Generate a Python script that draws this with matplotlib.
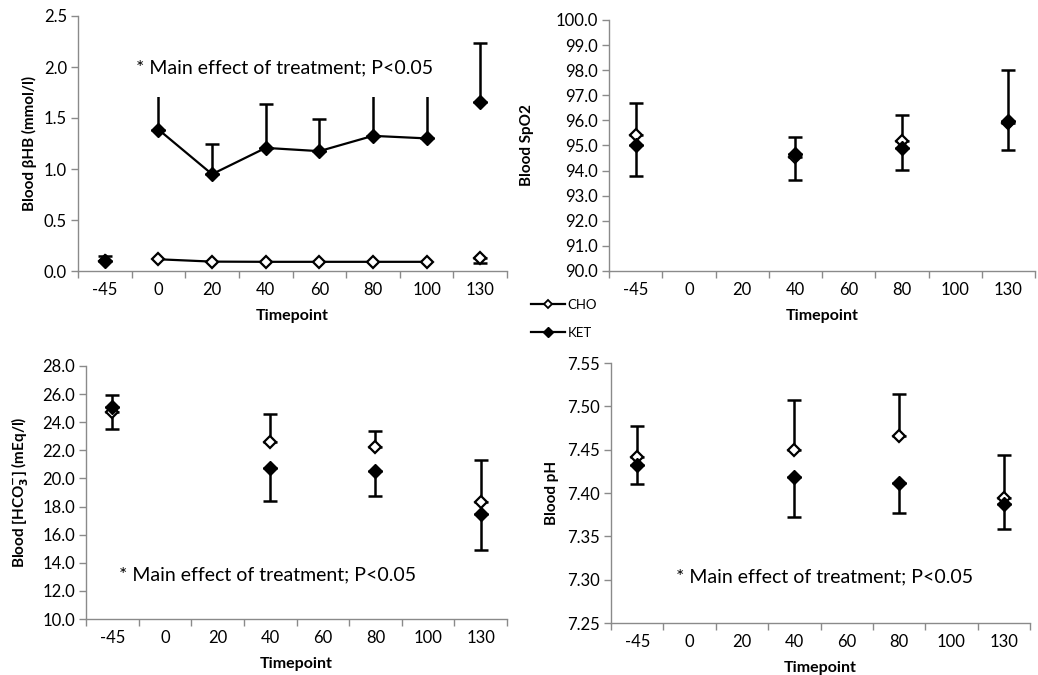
import matplotlib
matplotlib.use("Agg")
import matplotlib.pyplot as plt
import numpy as np
from matplotlib.lines import Line2D
from matplotlib.patches import Rectangle

plt.rcParams['font.family'] = ['Lato', 'DejaVu Sans']
plt.rcParams['mathtext.fontset'] = 'dejavusans'

timepoints = ["-45", "0", "20", "40", "60", "80", "100", "130"]

# blood beta-hydroxybutyrate (mmol/l)
bhb_cho = [0.10, 0.115, 0.092, 0.09, 0.09, 0.09, 0.09, 0.13]
bhb_ket = [0.095, 1.387, 0.949, 1.207, 1.175, 1.325, 1.30, 1.656]
bhb_cho_lo = [None, None, None, None, None, None, None, 0.08]
bhb_ket_hi = [0.145, 1.95, 1.25, 1.636, 1.49, 1.90, 1.88, 2.24]

# SpO2
spo2_idx = [0, 3, 5, 7]
spo2_cho = [95.41, 94.55, 95.19, 95.88]
spo2_ket = [95.01, 94.68, 94.91, 95.98]
spo2_cho_hi = [96.68, 95.33, 96.22, 97.99]
spo2_ket_lo = [93.78, 93.63, 94.02, 94.83]

# bicarbonate (mEq/l)
hco3_idx = [0, 3, 5, 7]
hco3_cho = [24.71, 22.60, 22.22, 18.34]
hco3_ket = [25.11, 20.73, 20.56, 17.46]
hco3_cho_hi = [25.94, 24.57, 23.38, 21.32]
hco3_ket_lo = [23.52, 18.43, 18.76, 14.90]

# pH
ph_idx = [0, 3, 5, 7]
ph_cho = [7.442, 7.450, 7.466, 7.394]
ph_ket = [7.432, 7.4185, 7.412, 7.3876]
ph_cho_hi = [7.4775, 7.5068, 7.5145, 7.4443]
ph_ket_lo = [7.410, 7.3718, 7.3768, 7.3583]

note = "* Main effect of treatment; P<0.05"

W, H = 1038, 675
fig = plt.figure(figsize=(W / 100, H / 100), dpi=100)

spine_col = "#8a8a8a"
open_kw = dict(marker="D", ms=6.3, mfc="white", mec="black", mew=1.6, color="black", lw=1.6)
fill_kw = dict(marker="D", ms=6.8, mfc="black", mec="black", color="black", lw=1.6)
open_pt = {k: v for k, v in open_kw.items() if k != "lw"}
fill_pt = {k: v for k, v in fill_kw.items() if k != "lw"}
err_kw = dict(fmt="none", ecolor="black", elinewidth=1.8, capsize=5, capthick=1.8)


def setup(rect, ylim, yticks, yfmt, ylabel, ylab_x, xlab_y):
    ax = fig.add_axes(rect)
    ax.set_xlim(-0.5, len(timepoints) - 0.5)
    ax.set_ylim(*ylim)
    for s in ["top", "right"]:
        ax.spines[s].set_visible(False)
    for s in ["left", "bottom"]:
        ax.spines[s].set_color(spine_col)
        ax.spines[s].set_linewidth(1.0)
    ax.set_yticks(yticks)
    ax.set_yticklabels([yfmt % v for v in yticks])
    ax.set_xticks(np.arange(len(timepoints) + 1) - 0.5)
    ax.set_xticklabels([])
    ax.set_xticks(np.arange(len(timepoints)), minor=True)
    ax.set_xticklabels(timepoints, minor=True)
    ax.tick_params(axis="x", which="major", direction="out", length=5, color=spine_col, width=1)
    ax.tick_params(axis="x", which="minor", length=0, labelsize=12, pad=8)
    ax.tick_params(axis="y", direction="out", length=5, color=spine_col, width=1,
                   labelsize=12, pad=3)
    ax.set_ylabel(ylabel, fontsize=11, fontweight="bold", va="center")
    ax.yaxis.set_label_coords(ylab_x, 0.5)
    ax.set_xlabel("Timepoint", fontsize=11.5, fontweight="bold", va="center")
    ax.xaxis.set_label_coords(0.5, xlab_y)
    return ax


def draw_err(ax, x, y, bound, zorder):
    x = np.asarray(x, float)
    y = np.asarray(y, float)
    b = np.array([np.nan if v is None else v for v in bound], float)
    keep = ~np.isnan(b)
    lo = np.where(b < y, y - b, 0)[keep]
    hi = np.where(b > y, b - y, 0)[keep]
    ax.errorbar(x[keep], y[keep], yerr=[lo, hi], zorder=zorder, **err_kw)


# --- beta-HB ---
ax1 = setup([78 / W, 1 - 271 / H, 429 / W, 255 / H], (0, 2.5),
            np.arange(0, 2.51, 0.5), "%.1f", "Blood βHB (mmol/l)", -0.113, -0.176)
xi = np.arange(len(timepoints))
draw_err(ax1, xi, bhb_ket, bhb_ket_hi, 2)
draw_err(ax1, xi, bhb_cho, bhb_cho_lo, 2)
ax1.plot(xi[1:7], bhb_cho[1:7], zorder=3, **open_kw)
ax1.plot(xi[[0, 7]], np.array(bhb_cho)[[0, 7]], ls="none", zorder=3, **open_pt)
ax1.plot(xi[1:7], bhb_ket[1:7], zorder=4, **fill_kw)
ax1.plot(xi[[0, 7]], np.array(bhb_ket)[[0, 7]], ls="none", zorder=4, **fill_pt)
# white text box sits over the plot area
ax1.add_patch(Rectangle((118 / W, 1 - 97 / H), 345 / W, 58 / H, transform=fig.transFigure,
                        facecolor="white", edgecolor="none", zorder=8, clip_on=False))
ax1.text(136 / W, 1 - 68 / H, note, transform=fig.transFigure, fontsize=14,
         ha="left", va="center", zorder=10)

# --- SpO2 ---
ax2 = setup([609 / W, 1 - 271 / H, 426 / W, 251 / H], (90, 100),
            np.arange(90, 100.1, 1), "%.1f", "Blood SpO2", -0.193, -0.179)
draw_err(ax2, spo2_idx, spo2_cho, spo2_cho_hi, 2)
draw_err(ax2, spo2_idx, spo2_ket, spo2_ket_lo, 2)
ax2.plot(spo2_idx, spo2_cho, ls="none", zorder=3, **open_pt)
ax2.plot(spo2_idx, spo2_ket, ls="none", zorder=4, **fill_pt)

# --- HCO3 ---
ax3 = setup([86 / W, 1 - 619 / H, 421 / W, 253 / H], (10, 28),
            np.arange(10, 28.1, 2), "%.1f",
            r"Blood [HCO$_\mathbf{3}^\mathbf{-}$] (mEq/l)", -0.155, -0.178)
draw_err(ax3, hco3_idx, hco3_cho, hco3_cho_hi, 2)
draw_err(ax3, hco3_idx, hco3_ket, hco3_ket_lo, 2)
ax3.plot(hco3_idx, hco3_cho, ls="none", zorder=3, **open_pt)
ax3.plot(hco3_idx, hco3_ket, ls="none", zorder=4, **fill_pt)
ax3.text(119 / W, 1 - 575 / H, note, transform=fig.transFigure, fontsize=14,
         ha="left", va="center")

# --- pH ---
ax4 = setup([611 / W, 1 - 623 / H, 419 / W, 260 / H], (7.25, 7.55),
            np.arange(7.25, 7.551, 0.05), "%.2f", "Blood pH", -0.14, -0.173)
draw_err(ax4, ph_idx, ph_cho, ph_cho_hi, 2)
draw_err(ax4, ph_idx, ph_ket, ph_ket_lo, 2)
ax4.plot(ph_idx, ph_cho, ls="none", zorder=3, **open_pt)
ax4.plot(ph_idx, ph_ket, ls="none", zorder=4, **fill_pt)
ax4.text(676 / W, 1 - 577 / H, note, transform=fig.transFigure, fontsize=14,
         ha="left", va="center")

# shared legend between the panels
handles = [
    Line2D([], [], marker="D", ms=4.5, mfc="white", mec="black", mew=1.3, color="black", lw=1.6),
    Line2D([], [], marker="D", ms=4.8, mfc="black", mec="black", color="black", lw=1.6),
]
fig.legend(handles, ["CHO", "KET"], loc="center left",
           bbox_to_anchor=(531 / W, 1 - 319 / H), frameon=False, fontsize=9.5,
           handlelength=2.6, handletextpad=0.15, labelspacing=1.2,
           borderpad=0, borderaxespad=0)

fig.savefig("out.png", dpi=100)
